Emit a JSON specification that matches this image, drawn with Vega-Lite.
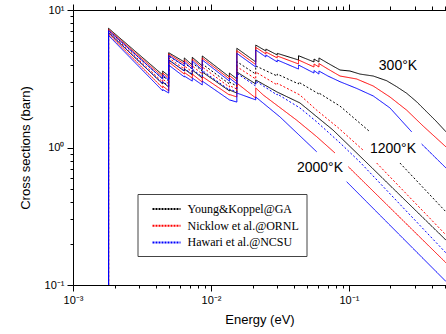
{
  "$schema": "https://vega.github.io/schema/vega-lite/v6.json",
  "width": 373,
  "height": 275,
  "autosize": {"type": "none"},
  "padding": {"left": 73, "top": 10, "right": 0, "bottom": 49},
  "background": "white",
  "config": {
    "view": {"stroke": null},
    "font": "Liberation Sans",
    "axis": {"labelFont": "Liberation Sans", "titleFont": "Liberation Sans", "labelColor": "black", "titleColor": "black", "domainColor": "black", "tickColor": "black", "titleFontWeight": "normal", "grid": false, "domainWidth": 1, "tickWidth": 1}
  },
  "layer": [
    {
      "data": {"values": [
        {"lab":"GA","T":"300","g":0,"i":0,"E":0.00181,"s":0.1},{"lab":"GA","T":"300","g":0,"i":1,"E":0.00181,"s":7.36},{"lab":"GA","T":"300","g":0,"i":2,"E":0.00447,"s":3.37},{"lab":"GA","T":"300","g":0,"i":3,"E":0.00447,"s":3.60},{"lab":"GA","T":"300","g":0,"i":4,"E":0.00494,"s":3.31},{"lab":"GA","T":"300","g":0,"i":5,"E":0.00494,"s":4.89},{"lab":"GA","T":"300","g":0,"i":6,"E":0.00641,"s":4.19},{"lab":"GA","T":"300","g":0,"i":7,"E":0.00641,"s":4.48},{"lab":"GA","T":"300","g":0,"i":8,"E":0.00732,"s":3.98},{"lab":"GA","T":"300","g":0,"i":9,"E":0.00732,"s":4.53},{"lab":"GA","T":"300","g":0,"i":10,"E":0.00865,"s":3.92},{"lab":"GA","T":"300","g":0,"i":11,"E":0.00865,"s":4.63},{"lab":"GA","T":"300","g":0,"i":12,"E":0.0136,"s":3.26},{"lab":"GA","T":"300","g":0,"i":13,"E":0.0136,"s":3.48},{"lab":"GA","T":"300","g":0,"i":14,"E":0.0154,"s":3.15},{"lab":"GA","T":"300","g":0,"i":15,"E":0.0154,"s":5.27},{"lab":"GA","T":"300","g":0,"i":16,"E":0.0211,"s":4.19},{"lab":"GA","T":"300","g":0,"i":17,"E":0.0211,"s":5.56},{"lab":"GA","T":"300","g":0,"i":18,"E":0.025,"s":5.03},{"lab":"GA","T":"300","g":0,"i":19,"E":0.025,"s":5.20},{"lab":"GA","T":"300","g":0,"i":20,"E":0.0302,"s":4.71},{"lab":"GA","T":"300","g":0,"i":21,"E":0.0302,"s":4.84},{"lab":"GA","T":"300","g":0,"i":22,"E":0.0431,"s":4.33},{"lab":"GA","T":"300","g":0,"i":23,"E":0.0431,"s":4.65},{"lab":"GA","T":"300","g":0,"i":24,"E":0.0558,"s":4.19},{"lab":"GA","T":"300","g":0,"i":25,"E":0.0558,"s":4.40},{"lab":"GA","T":"300","g":0,"i":26,"E":0.0606,"s":4.19},{"lab":"GA","T":"300","g":0,"i":27,"E":0.0606,"s":4.48},{"lab":"GA","T":"300","g":0,"i":28,"E":0.0704,"s":4.10},{"lab":"GA","T":"300","g":0,"i":29,"E":0.0861,"s":3.66},{"lab":"GA","T":"300","g":0,"i":30,"E":0.1017,"s":3.60},{"lab":"GA","T":"300","g":0,"i":31,"E":0.1201,"s":3.42},{"lab":"GA","T":"300","g":0,"i":32,"E":0.150,"s":3.31},{"lab":"GA","T":"300","g":0,"i":33,"E":0.1876,"s":3.06},{"lab":"GA","T":"300","g":0,"i":34,"E":0.2216,"s":2.77},{"lab":"GA","T":"300","g":0,"i":35,"E":0.2619,"s":2.48},{"lab":"GA","T":"300","g":0,"i":36,"E":0.3095,"s":2.15},{"lab":"GA","T":"300","g":0,"i":37,"E":0.3656,"s":1.82},{"lab":"GA","T":"300","g":0,"i":38,"E":0.4321,"s":1.54},{"lab":"GA","T":"300","g":0,"i":39,"E":0.505,"s":1.30},

        {"lab":"GA","T":"1200","g":0,"i":0,"E":0.00181,"s":0.1},{"lab":"GA","T":"1200","g":0,"i":1,"E":0.00181,"s":7.10},{"lab":"GA","T":"1200","g":0,"i":2,"E":0.00447,"s":3.15},{"lab":"GA","T":"1200","g":0,"i":3,"E":0.00447,"s":3.31},{"lab":"GA","T":"1200","g":0,"i":4,"E":0.00494,"s":3.04},{"lab":"GA","T":"1200","g":0,"i":5,"E":0.00494,"s":4.63},{"lab":"GA","T":"1200","g":0,"i":6,"E":0.00641,"s":3.92},{"lab":"GA","T":"1200","g":0,"i":7,"E":0.00641,"s":4.12},{"lab":"GA","T":"1200","g":0,"i":8,"E":0.00732,"s":3.72},{"lab":"GA","T":"1200","g":0,"i":9,"E":0.00732,"s":4.12},{"lab":"GA","T":"1200","g":0,"i":10,"E":0.00865,"s":3.60},{"lab":"GA","T":"1200","g":0,"i":11,"E":0.00865,"s":4.05},{"lab":"GA","T":"1200","g":0,"i":12,"E":0.0136,"s":2.90},{"lab":"GA","T":"1200","g":0,"i":13,"E":0.0136,"s":2.99},{"lab":"GA","T":"1200","g":0,"i":14,"E":0.0154,"s":2.80},{"lab":"GA","T":"1200","g":0,"i":15,"E":0.0154,"s":4.21},{"lab":"GA","T":"1200","g":0,"i":16,"E":0.0211,"s":3.42},{"lab":"GA","T":"1200","g":0,"i":17,"E":0.0211,"s":3.92},{"lab":"GA","T":"1200","g":0,"i":18,"E":0.0302,"s":3.31},{"lab":"GA","T":"1200","g":0,"i":19,"E":0.0302,"s":3.42},{"lab":"GA","T":"1200","g":0,"i":20,"E":0.0431,"s":2.90},{"lab":"GA","T":"1200","g":0,"i":21,"E":0.0431,"s":2.99},{"lab":"GA","T":"1200","g":0,"i":22,"E":0.0606,"s":2.45},{"lab":"GA","T":"1200","g":0,"i":23,"E":0.0606,"s":2.49},{"lab":"GA","T":"1200","g":0,"i":24,"E":0.0861,"s":2.00},{"lab":"GA","T":"1200","g":0,"i":25,"E":0.142,"s":1.30},{"lab":"GA","T":"1200","g":1,"i":26,"E":0.2342,"s":0.771},{"lab":"GA","T":"1200","g":1,"i":27,"E":0.505,"s":0.340},

        {"lab":"GA","T":"2000","g":0,"i":0,"E":0.00181,"s":0.1},{"lab":"GA","T":"2000","g":0,"i":1,"E":0.00181,"s":6.86},{"lab":"GA","T":"2000","g":0,"i":2,"E":0.00447,"s":2.90},{"lab":"GA","T":"2000","g":0,"i":3,"E":0.00447,"s":2.99},{"lab":"GA","T":"2000","g":0,"i":4,"E":0.00494,"s":2.75},{"lab":"GA","T":"2000","g":0,"i":5,"E":0.00494,"s":4.33},{"lab":"GA","T":"2000","g":0,"i":6,"E":0.00641,"s":3.60},{"lab":"GA","T":"2000","g":0,"i":7,"E":0.00641,"s":3.72},{"lab":"GA","T":"2000","g":0,"i":8,"E":0.00732,"s":3.37},{"lab":"GA","T":"2000","g":0,"i":9,"E":0.00732,"s":3.66},{"lab":"GA","T":"2000","g":0,"i":10,"E":0.00865,"s":3.20},{"lab":"GA","T":"2000","g":0,"i":11,"E":0.00865,"s":3.54},{"lab":"GA","T":"2000","g":0,"i":12,"E":0.0136,"s":2.58},{"lab":"GA","T":"2000","g":0,"i":13,"E":0.0136,"s":2.62},{"lab":"GA","T":"2000","g":0,"i":14,"E":0.0154,"s":2.49},{"lab":"GA","T":"2000","g":0,"i":15,"E":0.0154,"s":3.54},{"lab":"GA","T":"2000","g":0,"i":16,"E":0.0211,"s":2.90},{"lab":"GA","T":"2000","g":0,"i":17,"E":0.0211,"s":3.10},{"lab":"GA","T":"2000","g":0,"i":18,"E":0.0302,"s":2.53},{"lab":"GA","T":"2000","g":0,"i":19,"E":0.0441,"s":2.11},{"lab":"GA","T":"2000","g":0,"i":20,"E":0.0766,"s":1.34},{"lab":"GA","T":"2000","g":0,"i":21,"E":0.1306,"s":0.798},{"lab":"GA","T":"2000","g":0,"i":22,"E":0.505,"s":0.212},

        {"lab":"ORNL","T":"300","g":0,"i":0,"E":0.00181,"s":0.1},{"lab":"ORNL","T":"300","g":0,"i":1,"E":0.00181,"s":7.22},{"lab":"ORNL","T":"300","g":0,"i":2,"E":0.00447,"s":3.26},{"lab":"ORNL","T":"300","g":0,"i":3,"E":0.00447,"s":3.48},{"lab":"ORNL","T":"300","g":0,"i":4,"E":0.00494,"s":3.20},{"lab":"ORNL","T":"300","g":0,"i":5,"E":0.00494,"s":4.79},{"lab":"ORNL","T":"300","g":0,"i":6,"E":0.00641,"s":4.05},{"lab":"ORNL","T":"300","g":0,"i":7,"E":0.00641,"s":4.33},{"lab":"ORNL","T":"300","g":0,"i":8,"E":0.00732,"s":3.85},{"lab":"ORNL","T":"300","g":0,"i":9,"E":0.00732,"s":4.40},{"lab":"ORNL","T":"300","g":0,"i":10,"E":0.00865,"s":3.79},{"lab":"ORNL","T":"300","g":0,"i":11,"E":0.00865,"s":4.48},{"lab":"ORNL","T":"300","g":0,"i":12,"E":0.0136,"s":3.15},{"lab":"ORNL","T":"300","g":0,"i":13,"E":0.0136,"s":3.34},{"lab":"ORNL","T":"300","g":0,"i":14,"E":0.0154,"s":3.02},{"lab":"ORNL","T":"300","g":0,"i":15,"E":0.0154,"s":5.06},{"lab":"ORNL","T":"300","g":0,"i":16,"E":0.0211,"s":4.01},{"lab":"ORNL","T":"300","g":0,"i":17,"E":0.0211,"s":5.35},{"lab":"ORNL","T":"300","g":0,"i":18,"E":0.025,"s":4.79},{"lab":"ORNL","T":"300","g":0,"i":19,"E":0.025,"s":4.95},{"lab":"ORNL","T":"300","g":0,"i":20,"E":0.0302,"s":4.48},{"lab":"ORNL","T":"300","g":0,"i":21,"E":0.0302,"s":4.63},{"lab":"ORNL","T":"300","g":0,"i":22,"E":0.0431,"s":4.05},{"lab":"ORNL","T":"300","g":0,"i":23,"E":0.0431,"s":4.33},{"lab":"ORNL","T":"300","g":0,"i":24,"E":0.0558,"s":3.85},{"lab":"ORNL","T":"300","g":0,"i":25,"E":0.0558,"s":4.05},{"lab":"ORNL","T":"300","g":0,"i":26,"E":0.0606,"s":3.85},{"lab":"ORNL","T":"300","g":0,"i":27,"E":0.0606,"s":4.08},{"lab":"ORNL","T":"300","g":0,"i":28,"E":0.0704,"s":3.72},{"lab":"ORNL","T":"300","g":0,"i":29,"E":0.0861,"s":3.31},{"lab":"ORNL","T":"300","g":0,"i":30,"E":0.1137,"s":3.15},{"lab":"ORNL","T":"300","g":0,"i":31,"E":0.150,"s":2.80},{"lab":"ORNL","T":"300","g":0,"i":32,"E":0.1982,"s":2.33},{"lab":"ORNL","T":"300","g":0,"i":33,"E":0.2619,"s":1.87},{"lab":"ORNL","T":"300","g":0,"i":34,"E":0.3454,"s":1.43},{"lab":"ORNL","T":"300","g":0,"i":35,"E":0.505,"s":1.01},

        {"lab":"ORNL","T":"1200","g":0,"i":0,"E":0.00181,"s":0.1},{"lab":"ORNL","T":"1200","g":0,"i":1,"E":0.00181,"s":6.98},{"lab":"ORNL","T":"1200","g":0,"i":2,"E":0.00447,"s":2.99},{"lab":"ORNL","T":"1200","g":0,"i":3,"E":0.00447,"s":3.15},{"lab":"ORNL","T":"1200","g":0,"i":4,"E":0.00494,"s":2.90},{"lab":"ORNL","T":"1200","g":0,"i":5,"E":0.00494,"s":4.48},{"lab":"ORNL","T":"1200","g":0,"i":6,"E":0.00641,"s":3.72},{"lab":"ORNL","T":"1200","g":0,"i":7,"E":0.00641,"s":3.92},{"lab":"ORNL","T":"1200","g":0,"i":8,"E":0.00732,"s":3.54},{"lab":"ORNL","T":"1200","g":0,"i":9,"E":0.00732,"s":3.92},{"lab":"ORNL","T":"1200","g":0,"i":10,"E":0.00865,"s":3.42},{"lab":"ORNL","T":"1200","g":0,"i":11,"E":0.00865,"s":3.85},{"lab":"ORNL","T":"1200","g":0,"i":12,"E":0.0136,"s":2.75},{"lab":"ORNL","T":"1200","g":0,"i":13,"E":0.0136,"s":2.82},{"lab":"ORNL","T":"1200","g":0,"i":14,"E":0.0154,"s":2.66},{"lab":"ORNL","T":"1200","g":0,"i":15,"E":0.0154,"s":3.87},{"lab":"ORNL","T":"1200","g":0,"i":16,"E":0.0211,"s":3.15},{"lab":"ORNL","T":"1200","g":0,"i":17,"E":0.0211,"s":3.54},{"lab":"ORNL","T":"1200","g":0,"i":18,"E":0.0302,"s":2.85},{"lab":"ORNL","T":"1200","g":0,"i":19,"E":0.0302,"s":2.93},{"lab":"ORNL","T":"1200","g":0,"i":20,"E":0.0441,"s":2.41},{"lab":"ORNL","T":"1200","g":0,"i":21,"E":0.0583,"s":1.87},{"lab":"ORNL","T":"1200","g":0,"i":22,"E":0.0837,"s":1.39},{"lab":"ORNL","T":"1200","g":0,"i":23,"E":0.1263,"s":0.959},{"lab":"ORNL","T":"1200","g":1,"i":24,"E":0.1588,"s":0.771},{"lab":"ORNL","T":"1200","g":1,"i":25,"E":0.505,"s":0.231},

        {"lab":"ORNL","T":"2000","g":0,"i":0,"E":0.00181,"s":0.1},{"lab":"ORNL","T":"2000","g":0,"i":1,"E":0.00181,"s":6.69},{"lab":"ORNL","T":"2000","g":0,"i":2,"E":0.00447,"s":2.71},{"lab":"ORNL","T":"2000","g":0,"i":3,"E":0.00447,"s":2.80},{"lab":"ORNL","T":"2000","g":0,"i":4,"E":0.00494,"s":2.58},{"lab":"ORNL","T":"2000","g":0,"i":5,"E":0.00494,"s":4.19},{"lab":"ORNL","T":"2000","g":0,"i":6,"E":0.00641,"s":3.42},{"lab":"ORNL","T":"2000","g":0,"i":7,"E":0.00641,"s":3.51},{"lab":"ORNL","T":"2000","g":0,"i":8,"E":0.00732,"s":3.20},{"lab":"ORNL","T":"2000","g":0,"i":9,"E":0.00732,"s":3.42},{"lab":"ORNL","T":"2000","g":0,"i":10,"E":0.00865,"s":2.99},{"lab":"ORNL","T":"2000","g":0,"i":11,"E":0.00865,"s":3.28},{"lab":"ORNL","T":"2000","g":0,"i":12,"E":0.0136,"s":2.41},{"lab":"ORNL","T":"2000","g":0,"i":13,"E":0.0136,"s":2.43},{"lab":"ORNL","T":"2000","g":0,"i":14,"E":0.0154,"s":2.33},{"lab":"ORNL","T":"2000","g":0,"i":15,"E":0.0154,"s":2.94},{"lab":"ORNL","T":"2000","g":0,"i":16,"E":0.0211,"s":2.29},{"lab":"ORNL","T":"2000","g":0,"i":17,"E":0.0211,"s":2.71},{"lab":"ORNL","T":"2000","g":0,"i":18,"E":0.0239,"s":2.41},{"lab":"ORNL","T":"2000","g":0,"i":19,"E":0.0418,"s":1.58},{"lab":"ORNL","T":"2000","g":0,"i":20,"E":0.0583,"s":1.20},{"lab":"ORNL","T":"2000","g":0,"i":21,"E":0.0792,"s":0.912},{"lab":"ORNL","T":"2000","g":1,"i":22,"E":0.0989,"s":0.725},{"lab":"ORNL","T":"2000","g":1,"i":23,"E":0.505,"s":0.145},

        {"lab":"NCSU","T":"300","g":0,"i":0,"E":0.00181,"s":0.1},{"lab":"NCSU","T":"300","g":0,"i":1,"E":0.00181,"s":7.10},{"lab":"NCSU","T":"300","g":0,"i":2,"E":0.00447,"s":3.15},{"lab":"NCSU","T":"300","g":0,"i":3,"E":0.00447,"s":3.37},{"lab":"NCSU","T":"300","g":0,"i":4,"E":0.00494,"s":3.10},{"lab":"NCSU","T":"300","g":0,"i":5,"E":0.00494,"s":4.67},{"lab":"NCSU","T":"300","g":0,"i":6,"E":0.00641,"s":3.92},{"lab":"NCSU","T":"300","g":0,"i":7,"E":0.00641,"s":4.19},{"lab":"NCSU","T":"300","g":0,"i":8,"E":0.00732,"s":3.72},{"lab":"NCSU","T":"300","g":0,"i":9,"E":0.00732,"s":4.26},{"lab":"NCSU","T":"300","g":0,"i":10,"E":0.00865,"s":3.66},{"lab":"NCSU","T":"300","g":0,"i":11,"E":0.00865,"s":4.33},{"lab":"NCSU","T":"300","g":0,"i":12,"E":0.0136,"s":3.04},{"lab":"NCSU","T":"300","g":0,"i":13,"E":0.0136,"s":3.20},{"lab":"NCSU","T":"300","g":0,"i":14,"E":0.0154,"s":2.90},{"lab":"NCSU","T":"300","g":0,"i":15,"E":0.0154,"s":4.84},{"lab":"NCSU","T":"300","g":0,"i":16,"E":0.0211,"s":3.85},{"lab":"NCSU","T":"300","g":0,"i":17,"E":0.0211,"s":5.12},{"lab":"NCSU","T":"300","g":0,"i":18,"E":0.025,"s":4.55},{"lab":"NCSU","T":"300","g":0,"i":19,"E":0.025,"s":4.71},{"lab":"NCSU","T":"300","g":0,"i":20,"E":0.0302,"s":4.19},{"lab":"NCSU","T":"300","g":0,"i":21,"E":0.0302,"s":4.33},{"lab":"NCSU","T":"300","g":0,"i":22,"E":0.0431,"s":3.72},{"lab":"NCSU","T":"300","g":0,"i":23,"E":0.0431,"s":3.98},{"lab":"NCSU","T":"300","g":0,"i":24,"E":0.0558,"s":3.48},{"lab":"NCSU","T":"300","g":0,"i":25,"E":0.0558,"s":3.63},{"lab":"NCSU","T":"300","g":0,"i":26,"E":0.0606,"s":3.42},{"lab":"NCSU","T":"300","g":0,"i":27,"E":0.0606,"s":3.60},{"lab":"NCSU","T":"300","g":0,"i":28,"E":0.0704,"s":3.31},{"lab":"NCSU","T":"300","g":0,"i":29,"E":0.0861,"s":3.01},{"lab":"NCSU","T":"300","g":0,"i":30,"E":0.1137,"s":2.69},{"lab":"NCSU","T":"300","g":0,"i":31,"E":0.150,"s":2.37},{"lab":"NCSU","T":"300","g":0,"i":32,"E":0.1982,"s":1.94},{"lab":"NCSU","T":"300","g":0,"i":33,"E":0.2847,"s":1.30},{"lab":"NCSU","T":"300","g":1,"i":34,"E":0.3364,"s":1.06},{"lab":"NCSU","T":"300","g":1,"i":35,"E":0.505,"s":0.709},

        {"lab":"NCSU","T":"1200","g":0,"i":0,"E":0.00181,"s":0.1},{"lab":"NCSU","T":"1200","g":0,"i":1,"E":0.00181,"s":6.86},{"lab":"NCSU","T":"1200","g":0,"i":2,"E":0.00447,"s":2.90},{"lab":"NCSU","T":"1200","g":0,"i":3,"E":0.00447,"s":3.02},{"lab":"NCSU","T":"1200","g":0,"i":4,"E":0.00494,"s":2.80},{"lab":"NCSU","T":"1200","g":0,"i":5,"E":0.00494,"s":4.33},{"lab":"NCSU","T":"1200","g":0,"i":6,"E":0.00641,"s":3.60},{"lab":"NCSU","T":"1200","g":0,"i":7,"E":0.00641,"s":3.75},{"lab":"NCSU","T":"1200","g":0,"i":8,"E":0.00732,"s":3.42},{"lab":"NCSU","T":"1200","g":0,"i":9,"E":0.00732,"s":3.72},{"lab":"NCSU","T":"1200","g":0,"i":10,"E":0.00865,"s":3.26},{"lab":"NCSU","T":"1200","g":0,"i":11,"E":0.00865,"s":3.63},{"lab":"NCSU","T":"1200","g":0,"i":12,"E":0.0136,"s":2.62},{"lab":"NCSU","T":"1200","g":0,"i":13,"E":0.0136,"s":2.66},{"lab":"NCSU","T":"1200","g":0,"i":14,"E":0.0154,"s":2.53},{"lab":"NCSU","T":"1200","g":0,"i":15,"E":0.0154,"s":3.46},{"lab":"NCSU","T":"1200","g":0,"i":16,"E":0.0211,"s":2.80},{"lab":"NCSU","T":"1200","g":0,"i":17,"E":0.0211,"s":3.04},{"lab":"NCSU","T":"1200","g":0,"i":18,"E":0.0302,"s":2.41},{"lab":"NCSU","T":"1200","g":0,"i":19,"E":0.0302,"s":2.45},{"lab":"NCSU","T":"1200","g":0,"i":20,"E":0.0441,"s":1.94},{"lab":"NCSU","T":"1200","g":0,"i":21,"E":0.0587,"s":1.53},{"lab":"NCSU","T":"1200","g":0,"i":22,"E":0.0861,"s":1.08},{"lab":"NCSU","T":"1200","g":0,"i":23,"E":0.1201,"s":0.784},{"lab":"NCSU","T":"1200","g":0,"i":24,"E":0.505,"s":0.171},

        {"lab":"NCSU","T":"2000","g":0,"i":0,"E":0.00181,"s":0.1},{"lab":"NCSU","T":"2000","g":0,"i":1,"E":0.00181,"s":6.52},{"lab":"NCSU","T":"2000","g":0,"i":2,"E":0.00447,"s":2.58},{"lab":"NCSU","T":"2000","g":0,"i":3,"E":0.00447,"s":2.64},{"lab":"NCSU","T":"2000","g":0,"i":4,"E":0.00494,"s":2.49},{"lab":"NCSU","T":"2000","g":0,"i":5,"E":0.00494,"s":3.98},{"lab":"NCSU","T":"2000","g":0,"i":6,"E":0.00641,"s":3.26},{"lab":"NCSU","T":"2000","g":0,"i":7,"E":0.00641,"s":3.31},{"lab":"NCSU","T":"2000","g":0,"i":8,"E":0.00732,"s":3.04},{"lab":"NCSU","T":"2000","g":0,"i":9,"E":0.00732,"s":3.20},{"lab":"NCSU","T":"2000","g":0,"i":10,"E":0.00865,"s":2.85},{"lab":"NCSU","T":"2000","g":0,"i":11,"E":0.00865,"s":3.04},{"lab":"NCSU","T":"2000","g":0,"i":12,"E":0.0136,"s":2.22},{"lab":"NCSU","T":"2000","g":0,"i":13,"E":0.0154,"s":2.14},{"lab":"NCSU","T":"2000","g":0,"i":14,"E":0.0154,"s":2.49},{"lab":"NCSU","T":"2000","g":0,"i":15,"E":0.0211,"s":2.22},{"lab":"NCSU","T":"2000","g":0,"i":16,"E":0.0211,"s":2.33},{"lab":"NCSU","T":"2000","g":0,"i":17,"E":0.0316,"s":1.67},{"lab":"NCSU","T":"2000","g":0,"i":18,"E":0.0583,"s":0.932},{"lab":"NCSU","T":"2000","g":1,"i":19,"E":0.0962,"s":0.564},{"lab":"NCSU","T":"2000","g":1,"i":20,"E":0.505,"s":0.106}
      ]},
      "mark": {"type": "line", "strokeWidth": 1, "clip": true},
      "encoding": {
        "x": {
          "field": "E", "type": "quantitative",
          "scale": {"type": "log", "domain": [0.001, 0.505], "nice": false},
          "axis": {
            "title": "Energy (eV)", "titleFontSize": 13, "titlePadding": 8,
            "values": [0.001,0.002,0.003,0.004,0.005,0.006,0.007,0.008,0.009,0.01,0.02,0.03,0.04,0.05,0.06,0.07,0.08,0.09,0.1,0.2,0.3,0.4,0.5],
            "labelExpr": "datum.value == 0.001 ? '10⁻³' : datum.value == 0.01 ? '10⁻²' : datum.value == 0.1 ? '10⁻¹' : ''",
            "labelFontSize": 11, "labelPadding": 3, "labelFlush": false, "labelOverlap": false,
            "tickSize": {"condition": {"test": "datum.value == 0.001 || datum.value == 0.01 || datum.value == 0.1", "value": 6}, "value": 3}
          }
        },
        "y": {
          "field": "s", "type": "quantitative",
          "scale": {"type": "log", "domain": [0.1, 10], "nice": false},
          "axis": {
            "title": "Cross sections (barn)", "titleFontSize": 13, "titlePadding": 12,
            "values": [0.1,0.2,0.3,0.4,0.5,0.6,0.7,0.8,0.9,1,2,3,4,5,6,7,8,9,10],
            "labelExpr": "datum.value == 0.1 ? '10⁻¹' : datum.value == 1 ? '10⁰' : datum.value == 10 ? '10¹' : ''",
            "labelFontSize": 11, "labelPadding": 3, "labelFlush": false, "labelOverlap": false,
            "tickSize": {"condition": {"test": "datum.value == 0.1 || datum.value == 1 || datum.value == 10", "value": 6}, "value": 3}
          }
        },
        "color": {
          "field": "lab", "type": "nominal",
          "scale": {"domain": ["GA", "ORNL", "NCSU"], "range": ["#000000", "#ff0000", "#0000ff"]},
          "legend": {
            "orient": "none", "legendX": 64.5, "legendY": 184, "title": null, "direction": "vertical",
            "labelExpr": "datum.label == 'GA' ? 'Young&Koppel@GA' : datum.label == 'ORNL' ? 'Nicklow et al.@ORNL\u00a0\u00a0\u00a0' : 'Hawari et al.@NCSU'",
            "symbolType": "M-1,0H3", "symbolSize": 196, "symbolStrokeWidth": 2, "symbolDash": [2, 1],
            "labelFont": "Liberation Serif", "labelFontSize": 12, "labelColor": "black", "labelOffset": 20, "labelLimit": 300,
            "strokeColor": "#444444", "fillColor": "white", "padding": 7, "symbolOffset": 7, "rowPadding": 2.7
          }
        },
        "strokeDash": {
          "field": "T", "type": "nominal",
          "scale": {"domain": ["300", "1200", "2000"], "range": [[1, 0], [2, 2], [1, 0]]},
          "legend": null
        },
        "detail": {"field": "g"},
        "order": {"field": "i", "type": "quantitative"}
      }
    },
    {
      "data": {"values": [
        {"t": "300°K", "E": 0.2265, "s": 3.92},
        {"t": "1200°K", "E": 0.2083, "s": 0.975},
        {"t": "2000°K", "E": 0.0617, "s": 0.71}
      ]},
      "mark": {"type": "text", "fontSize": 14, "font": "Liberation Sans", "color": "black", "align": "center", "baseline": "middle"},
      "encoding": {
        "x": {
          "field": "E", "type": "quantitative",
          "axis": {
            "orient": "top", "title": null, "labels": false,
            "values": [0.001,0.002,0.003,0.004,0.005,0.006,0.007,0.008,0.009,0.01,0.02,0.03,0.04,0.05,0.06,0.07,0.08,0.09,0.1,0.2,0.3,0.4,0.5],
            "tickSize": {"condition": {"test": "datum.value == 0.001 || datum.value == 0.01 || datum.value == 0.1", "value": 6}, "value": 4}
          }
        },
        "y": {"field": "s", "type": "quantitative"},
        "text": {"field": "t"}
      }
    }
  ],
  "resolve": {"axis": {"x": "independent"}}
}
